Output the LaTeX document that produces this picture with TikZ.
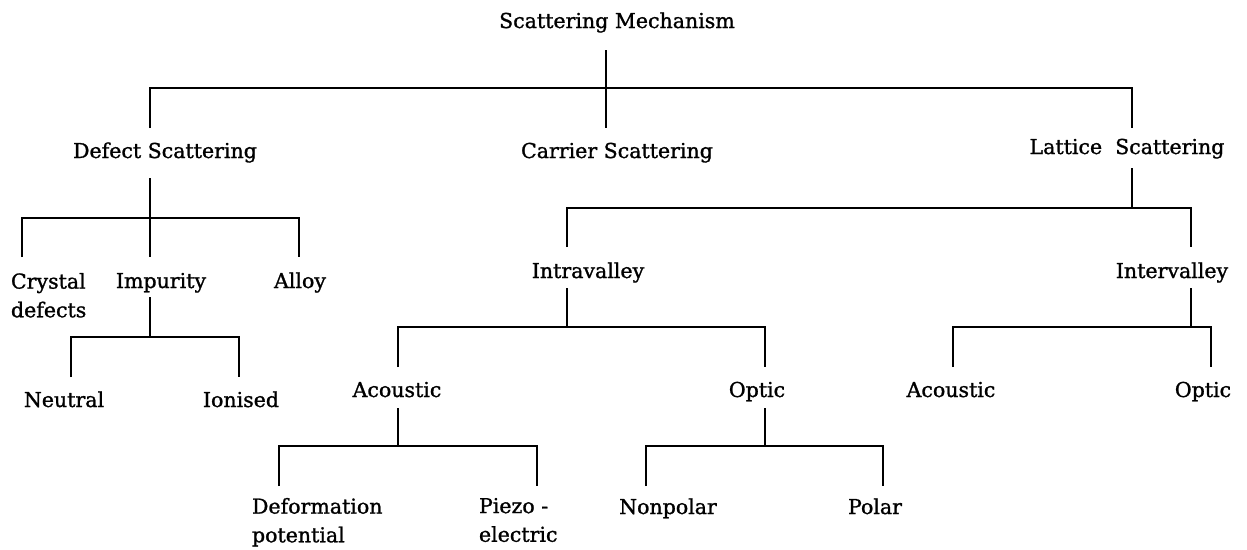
\documentclass[tikz,border=0pt]{standalone}
\usepackage{fontspec}
\setmainfont{DejaVu Serif}[RawFeature={embolden=1.2}]
\usetikzlibrary{calc}
\begin{document}
\begin{tikzpicture}[x=0.75pt,y=-0.75pt,
  lbl/.style={anchor=base,inner sep=0pt,outer sep=0pt,text height=11.25pt,text depth=0pt,font=\fontsize{15.4}{21.5}\selectfont},
  lbl2/.style={anchor=north west,inner sep=0pt,outer sep=0pt,align=left,font=\fontsize{15.4}{21.5}\selectfont},
  conn/.style={draw=black,line width=1.7pt}]
\useasboundingbox[fill=white] (0,0) rectangle (1247,550);
% nodes
\node[lbl] (sm) at (617,28) {Scattering Mechanism};
\node[lbl] (ds) at (165,158) {Defect Scattering};
\node[lbl] (cs) at (617,158) {Carrier Scattering};
\node[lbl] (ls) at (1127,154) {Lattice\ \ Scattering};
\node[lbl2] (cd) at (11,273) {Crystal\\defects};
\node[lbl] (imp) at (161,288) {Impurity};
\node[lbl] (al) at (300,288) {Alloy};
\node[lbl] (ne) at (64,407) {Neutral};
\node[lbl] (io) at (241,407) {Ionised};
\node[lbl] (ra) at (588,278) {Intravalley};
\node[lbl] (er) at (1172,278) {Intervalley};
\node[lbl] (ac1) at (397,397) {Acoustic};
\node[lbl] (op1) at (757,397) {Optic};
\node[lbl] (ac2) at (951,397) {Acoustic};
\node[lbl] (op2) at (1203,397) {Optic};
\node[lbl2] (dp) at (252,498) {Deformation\\potential};
\node[lbl2] (pz) at (479,498) {Piezo -\\electric};
\node[lbl] (np) at (668,514) {Nonpolar};
\node[lbl] (po) at (875,514) {Polar};
% level 1
\draw[conn] ($(sm.south)+(-11,22)$) -- ($(cs.north)+(-11,-15)$);
\draw[conn] ($(ds.north)+(-15,-15)$) |- ($(sm.south)+(-11,60)$) -| ($(ls.north)+(5,-11)$);
% defect
\draw[conn] ($(ds.south)+(-15,20)$) -- ($(imp.north)+(-11,-16)$);
\draw[conn] ($(cd.north west)+(11,-16)$) |- ($(ds.south)+(-15,60)$) -| ($(al.north)+(-1,-16)$);
% impurity
\draw[conn] ($(imp.south)+(-11,9)$) -- ++(0,40);
\draw[conn] ($(ne.north)+(7,-15)$) |- ($(imp.south)+(-11,49)$) -| ($(io.north)+(-2,-15)$);
% lattice
\draw[conn] ($(ls.south)+(5,14)$) -- ++(0,40);
\draw[conn] ($(ra.north)+(-21,-16)$) |- ($(ls.south)+(5,54)$) -| ($(er.north)+(19,-16)$);
% intravalley
\draw[conn] ($(ra.south)+(-21,10)$) -- ++(0,39);
\draw[conn] ($(ac1.north)+(1,-15)$) |- ($(ra.south)+(-21,49)$) -| ($(op1.north)+(8,-15)$);
% intervalley
\draw[conn] ($(er.south)+(19,10)$) -- ++(0,39);
\draw[conn] ($(ac2.north)+(2,-15)$) |- ($(er.south)+(19,49)$) -| ($(op2.north)+(8,-15)$);
% acoustic
\draw[conn] ($(ac1.south)+(1,11)$) -- ++(0,38);
\draw[conn] ($(dp.north west)+(27,-12)$) |- ($(ac1.south)+(1,49)$) -| ($(pz.north west)+(58,-12)$);
% optic
\draw[conn] ($(op1.south)+(8,11)$) -- ++(0,38);
\draw[conn] ($(np.north)+(-22,-13)$) |- ($(op1.south)+(8,49)$) -| ($(po.north)+(8,-13)$);
\end{tikzpicture}
\end{document}
